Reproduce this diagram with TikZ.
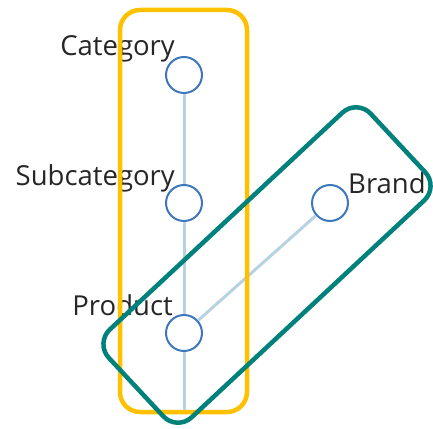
\documentclass[tikz,border=0pt]{standalone}
\usepackage{fontspec}
\setmainfont{Open Sans}
\definecolor{hierblue}{HTML}{3D78BD}
\definecolor{linkblue}{HTML}{B7D3E2}
\definecolor{groupyellow}{HTML}{FFC000}
\definecolor{groupteal}{HTML}{00817B}
\definecolor{labeltext}{HTML}{262626}
\begin{document}
\begin{tikzpicture}[x=1pt,y=-1pt,
  level/.style={circle,draw=hierblue,line width=2pt,fill=white,minimum size=36pt,inner sep=0pt},
  link/.style={draw=linkblue,line width=3pt},
  lbl/.style={font=\fontsize{27.5}{32}\selectfont,text=labeltext,inner sep=0pt},
  grp/.style={line width=4.5pt,rounded corners=20pt}]
\useasboundingbox (0,0) rectangle (433,428);
% hierarchy levels
\node[level] (cat)   at (184,75)  {};
\node[level] (sub)   at (184,203) {};
\node[level] (prod)  at (184,333) {};
\node[level] (brand) at (330,203) {};
\coordinate (tail) at (184,413);
% connectors
\draw[link] (cat) -- (sub);
\draw[link] (sub) -- (prod);
\draw[link] (prod) -- (tail);
\draw[link] (prod) -- (brand);
% labels
\node[lbl,anchor=base east] (lcat)   at (175,56)  {Category};
\node[lbl,anchor=base east] (lsub)   at (175,185) {Subcategory};
\node[lbl,anchor=base east] (lprod)  at (173,315) {Product};
\node[lbl,anchor=base west] (lbrand) at (348,193) {Brand};
% groupings
\draw[grp,draw=groupyellow] (120,10) rectangle (247,412);
\begin{scope}[shift={(267,265)},rotate=43]
\draw[grp,draw=groupteal] (-179,-60) rectangle (179,60);
\end{scope}
\end{tikzpicture}
\end{document}
